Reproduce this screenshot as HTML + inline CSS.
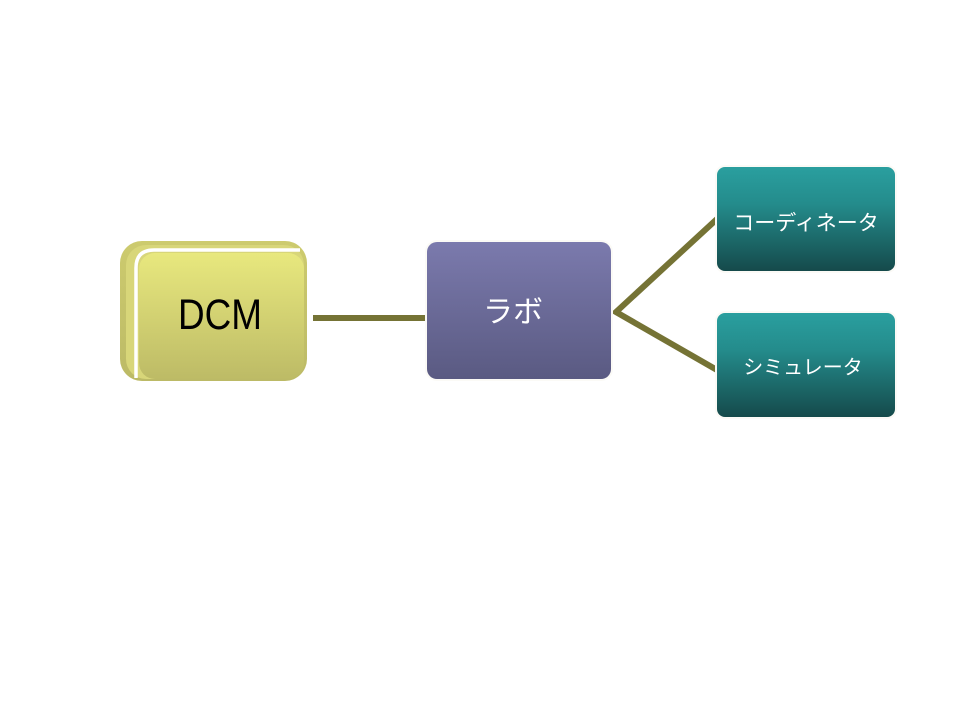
<!DOCTYPE html>
<html><head><meta charset="utf-8"><style>
html,body{margin:0;padding:0;background:#fff;}
svg{display:block;}
</style></head><body>
<svg width="960" height="720" viewBox="0 0 960 720" xmlns="http://www.w3.org/2000/svg">
<defs>
<linearGradient id="gy" x1="0" y1="0" x2="0" y2="1">
<stop offset="0" stop-color="#e8e87e"/><stop offset="1" stop-color="#bdbb66"/>
</linearGradient>
<linearGradient id="gyo" x1="0" y1="0" x2="0" y2="1">
<stop offset="0" stop-color="#cdcb6e"/><stop offset="1" stop-color="#bcba66"/>
</linearGradient>
<linearGradient id="gp" x1="0" y1="0" x2="0" y2="1">
<stop offset="0" stop-color="#7b7aad"/><stop offset="1" stop-color="#5a5a82"/>
</linearGradient>
<linearGradient id="gt" x1="0" y1="0" x2="0" y2="1">
<stop offset="0" stop-color="#2a9f9f"/><stop offset="0.35" stop-color="#248c8c"/><stop offset="1" stop-color="#154a4b"/>
</linearGradient>
</defs>

<!-- connectors -->
<line x1="313" y1="318" x2="425" y2="318" stroke="#757335" stroke-width="6"/>
<polyline points="717,219 616,312 717,370" fill="none" stroke="#757335" stroke-width="6" stroke-linejoin="miter"/>

<!-- DCM -->
<rect x="120" y="241" width="187" height="140" rx="22" fill="url(#gyo)"/>
<rect x="126" y="245" width="178" height="134" rx="20" fill="#d8d679"/>
<path d="M136,378 L136,268 Q136,250 154,250 L300,250" fill="none" stroke="#ffffff" stroke-width="3.5"/>
<rect x="139" y="253" width="165" height="126" rx="16" fill="url(#gy)"/>
<text x="178" y="329" font-family="Liberation Sans, sans-serif" font-size="43" fill="#000" textLength="84" lengthAdjust="spacingAndGlyphs">DCM</text>

<!-- Lab -->
<rect x="425" y="240" width="188" height="141" rx="12" fill="#fbfaf6"/>
<rect x="427" y="242" width="184" height="137" rx="10" fill="url(#gp)"/>
<text x="513" y="322" text-anchor="middle" font-family="Liberation Sans, 'Noto Sans CJK JP', sans-serif" font-size="30" fill="#fff">ラボ</text>

<!-- Coordinator -->
<rect x="715" y="165" width="182" height="108" rx="10" fill="#fbfaf6"/>
<rect x="717" y="167" width="178" height="104" rx="8" fill="url(#gt)"/>
<text x="806" y="230" text-anchor="middle" font-family="Liberation Sans, 'Noto Sans CJK JP', sans-serif" font-size="21" fill="#fff">コーディネータ</text>

<!-- Simulator -->
<rect x="715" y="311" width="182" height="108" rx="10" fill="#fbfaf6"/>
<rect x="717" y="313" width="178" height="104" rx="8" fill="url(#gt)"/>
<text x="803" y="374" text-anchor="middle" font-family="Liberation Sans, 'Noto Sans CJK JP', sans-serif" font-size="20" fill="#fff">シミュレータ</text>
</svg>
</body></html>
